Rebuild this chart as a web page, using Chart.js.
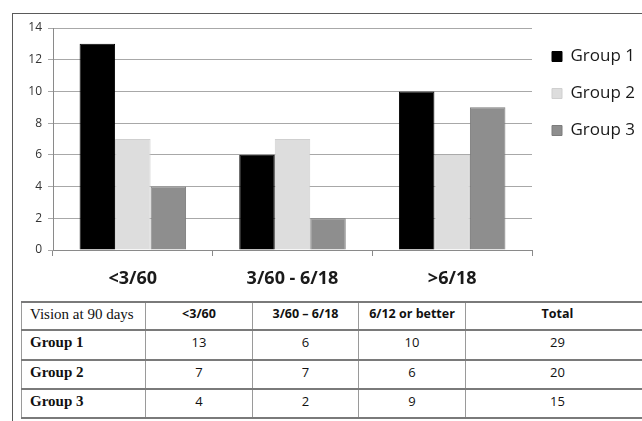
<!DOCTYPE html>
<html>
<head>
<meta charset="utf-8">
<script src="https://cdn.jsdelivr.net/npm/chart.js@4/dist/chart.umd.min.js"></script>
<style>
  html, body { margin: 0; padding: 0; background: #fff; width: 642px; height: 421px; overflow: hidden; }
  #frame { position: absolute; left: 12px; top: 13px; width: 700px; height: 500px; border: 1px solid #5a5a5a; box-sizing: border-box; }
  #chart { position: absolute; left: 0; top: 0; }
  #tbl { position: absolute; left: 21px; top: 301px; width: 628px; border-collapse: collapse; table-layout: fixed; }
  #tbl td { border-left: 1px solid #9a9a9a; border-right: 1px solid #9a9a9a; border-top: 2px solid #7a7a7a; border-bottom: 2px solid #7a7a7a;
            vertical-align: top; padding: 2px 0 0 0; line-height: 18px; text-align: center; color: #111;
            font-family: "Open Sans", sans-serif; font-size: 13px; box-sizing: border-box; white-space: nowrap; overflow: hidden; }
  #tbl td.rowhead { text-align: left; padding-left: 8px; font-family: "Liberation Serif", serif; font-size: 15px; }
  #tbl tr.body td.rowhead { font-weight: bold; }
  #tbl tr.head td.colhead { font-weight: bold; font-size: 12.5px; }
</style>
</head>
<body>
<div id="frame"></div>
<canvas id="chart" width="650" height="296"></canvas>
<table id="tbl"></table>
<script>
// Visual acuity categories at 90 days
const categories = ['<3/60', '3/60 - 6/18', '>6/18'];
const groupNames = ['Group 1', 'Group 2', 'Group 3'];
const group1 = [13, 6, 10];
const group2 = [7, 7, 6];
const group3 = [4, 2, 9];
const yTicks = [0, 2, 4, 6, 8, 10, 12, 14];

// Summary table
const tableHeader = ['Vision at 90 days', '<3/60', '3/60 \u2013 6/18', '6/12 or better', 'Total'];
const totals = [29, 20, 15];

const fills = ['#000000', '#dddddd', '#8e8e8e'];
const edges = ['#000000', '#cfcfcf', '#7c7c7c'];
const seriesValues = [group1, group2, group3];

new Chart(document.getElementById('chart'), {
  type: 'bar',
  data: {
    labels: categories,
    datasets: seriesValues.map((vals, i) => ({
      label: groupNames[i],
      data: vals,
      backgroundColor: fills[i],
      borderColor: edges[i],
      borderWidth: 1,
      categoryPercentage: 0.667,
      barPercentage: 1.0
    }))
  },
  options: {
    responsive: false,
    animation: false,
    devicePixelRatio: 1,
    layout: { padding: { left: 0, top: 28, right: 5, bottom: 0 } },
    plugins: {
      tooltip: { enabled: false },
      legend: {
        position: 'right',
        align: 'start',
        labels: {
          boxWidth: 10,
          boxHeight: 10,
          padding: 20,
          color: '#1a1a1a',
          font: { family: 'Open Sans', size: 17 }
        }
      }
    },
    scales: {
      x: {
        offset: true,
        grid: { display: true, drawOnChartArea: false, drawTicks: true, tickLength: 6, color: '#8a8a8a', offset: true },
        border: { color: '#8a8a8a' },
        ticks: { color: '#1a1a1a', padding: 12, font: { family: 'Open Sans', size: 18, weight: 'bold' } },
        afterFit: s => { s.height = 46; }
      },
      y: {
        min: 0,
        max: 14,
        afterBuildTicks: s => { s.ticks = yTicks.map(v => ({ value: v })); },
        grid: { color: '#a8a8a8', tickLength: 5 },
        border: { color: '#8a8a8a' },
        ticks: { color: '#333', padding: 6, font: { family: 'Open Sans', size: 12 } },
        afterFit: s => { s.width = 53; }
      }
    }
  }
});

// Build the table from the same series
const tbl = document.getElementById('tbl');
const colWidths = [124, 107, 106, 107, 184];
const rowHeights = [28, 30, 29, 29];
const colgroup = document.createElement('colgroup');
colWidths.forEach(w => { const c = document.createElement('col'); c.style.width = w + 'px'; colgroup.appendChild(c); });
tbl.appendChild(colgroup);
const headRow = document.createElement('tr');
headRow.className = 'head';
headRow.style.height = rowHeights[0] + 'px';
tableHeader.forEach((t, i) => {
  const td = document.createElement('td');
  td.textContent = t;
  td.className = i === 0 ? 'rowhead' : 'colhead';
  headRow.appendChild(td);
});
tbl.appendChild(headRow);
seriesValues.forEach((vals, r) => {
  const tr = document.createElement('tr');
  tr.className = 'body';
  tr.style.height = rowHeights[r + 1] + 'px';
  const cells = [groupNames[r], ...vals, totals[r]];
  cells.forEach((t, i) => {
    const td = document.createElement('td');
    td.textContent = t;
    if (i === 0) td.className = 'rowhead';
    tr.appendChild(td);
  });
  tbl.appendChild(tr);
});
</script>
</body>
</html>
